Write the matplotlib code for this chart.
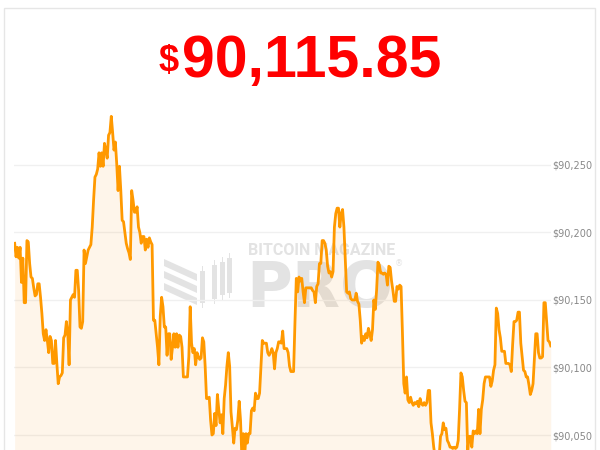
import matplotlib.pyplot as plt
from matplotlib.patches import Rectangle, Polygon

TITLE_PRICE = "90,115.85"
TICKS = [90050, 90100, 90150, 90200, 90250]

# BTC price, left to right (USD)
prices = [
    90192, 90182, 90189, 90181, 90189, 90163, 90181, 90148, 90148, 90194,
    90193, 90177, 90167, 90166, 90159, 90153, 90154, 90162, 90162,
    90152, 90140, 90125, 90120, 90128, 90120, 90111, 90123, 90120, 90103,
    90103, 90120, 90103, 90088, 90093, 90094, 90096, 90122, 90124,
    90134, 90126, 90102, 90150, 90152, 90154, 90152, 90172, 90172,
    90157, 90130, 90129, 90134, 90187, 90177, 90182, 90187, 90189,
    # ---
    90191, 90204, 90224, 90241, 90243, 90247, 90259, 90249, 90259, 90249,
    90266, 90261, 90255, 90272, 90274, 90286, 90274, 90261, 90267, 90251,
    90231, 90249, 90231, 90209, 90208, 90200, 90192, 90188, 90185, 90180,
    90231, 90224, 90215, 90215, 90219, 90204, 90200, 90192, 90197, 90197,
    90187, 90195, 90189, 90196, 90193, 90191, 90135, 90135, 90125, 90115,
    90102, 90138, 90152, 90145, 90130, 90130, 90109, 90125,
    # ---
    90125, 90106, 90115, 90125, 90115, 90125, 90115, 90124, 90123,
    90115, 90093, 90093, 90093, 90093, 90108, 90145, 90118, 90111, 90114,
    90102, 90111, 90108, 90106, 90107, 90122, 90119, 90101, 90077, 90077,
    90078, 90061, 90050, 90051, 90066, 90057, 90080, 90069, 90059, 90065,
    90051, 90077, 90087, 90101, 90111, 90101, 90067, 90056, 90044, 90055,
    90054, 90061, 90075, 90061, 90033, 90051, 90033, 90051,
    # ---
    90044, 90051, 90051, 90068, 90070, 90068, 90081, 90077, 90077, 90081,
    90101, 90120, 90118, 90118, 90118, 90111, 90109, 90111, 90114, 90111,
    90099, 90111, 90114, 90119, 90119, 90118, 90127, 90114, 90114, 90114,
    90111, 90101, 90097, 90097, 90097, 90133, 90166, 90156, 90167, 90164,
    90166, 90156, 90148, 90159, 90159, 90159, 90159, 90159, 90157, 90156,
    90148, 90160, 90162, 90177, 90177, 90194, 90194, 90192, 90187, 90175,
    # ---
    90170, 90171, 90167, 90171, 90204, 90214, 90218, 90218, 90204, 90214,
    90217, 90204, 90180, 90156, 90155, 90156, 90151, 90150, 90150, 90150,
    90155, 90149, 90147, 90135, 90118, 90123, 90120, 90125, 90122, 90129,
    90125, 90120, 90128, 90150, 90143, 90157, 90178, 90176, 90170, 90170,
    90169, 90170, 90169, 90161, 90175, 90174, 90164, 90157, 90149, 90149,
    90160, 90158, 90161, 90160, 90126, 90088, 90081, 90093, 90076, 90074,
    # ---
    90078, 90074, 90072, 90074, 90073, 90075, 90071, 90077, 90073, 90072,
    90074, 90072, 90074, 90083, 90083, 90059, 90051, 90041, 90034, 90033,
    90033, 90034, 90049, 90051, 90059, 90054, 90055, 90046, 90044, 90041,
    90041, 90040, 90041, 90040, 90041, 90046, 90069, 90096, 90093, 90083,
    90075, 90074, 90038, 90049, 90049, 90041, 90053, 90051, 90053, 90051,
    90069, 90051, 90069, 90076, 90088, 90093, 90093, 90093, 90093,
    # ---
    90086, 90090, 90098, 90102, 90144, 90140, 90128, 90122, 90112, 90112,
    90112, 90103, 90103, 90103, 90102, 90097, 90117, 90134, 90134, 90135,
    90141, 90141, 90118, 90108, 90098, 90097, 90093, 90093, 90087, 90080,
    90083, 90088, 90106, 90125, 90125, 90111, 90107, 90107, 90108, 90148,
    90148, 90134, 90120, 90119, 90116,
]

W, H = 600, 450
fig = plt.figure(figsize=(6, 4.5), dpi=100)


def fx(px):
    return px / W


def fy(py):
    return 1 - py / H


# card outline
fig.add_artist(Rectangle((fx(4), fy(470)), (595 - 4) / W, (470 - 8) / H,
                         transform=fig.transFigure, fill=False,
                         edgecolor="#e6e6e6", lw=1))

# big price
fig.text(fx(179), fy(71), "$", color="#ff0000", fontsize=26,
         family="Liberation Sans", weight="bold", ha="right", va="baseline")
fig.text(fx(182), fy(77), TITLE_PRICE, color="#ff0000", fontsize=42.5,
         family="Liberation Sans", weight="bold", ha="left", va="baseline")

ax = fig.add_axes([fx(14), 0, (551 - 14) / W, (450 - 100) / H])
ax.set_facecolor("none")

# watermark
wm = "#e3e3e3"
for t in [259, 271, 283]:
    pts = [(fx(164), fy(t)), (fx(197), fy(t + 15)),
           (fx(197), fy(t + 22)), (fx(164), fy(t + 7))]
    ax.add_patch(Polygon(pts, closed=True, transform=fig.transFigure,
                         color=wm, lw=0, zorder=1, clip_on=False))
for cx, top, bot in [(202, 271, 303), (214, 265, 299), (222, 262, 295), (229, 258, 293)]:
    ax.add_patch(Rectangle((fx(cx - 2.5), fy(bot)), 5 / W, (bot - top) / H,
                           transform=fig.transFigure, color=wm, lw=0,
                           zorder=1, clip_on=False))
    ax.add_patch(Rectangle((fx(cx - 0.5), fy(bot + 5)), 1 / W, (bot - top + 10) / H,
                           transform=fig.transFigure, color=wm, lw=0,
                           zorder=1, clip_on=False))
ax.text(fx(248), fy(255), "BITCOIN MAGAZINE", transform=fig.transFigure,
        color=wm, fontsize=11.5, family="Roboto", weight="bold",
        ha="left", va="baseline", zorder=1)
ax.text(fx(246), fy(307), "PRO", transform=fig.transFigure,
        color=wm, fontsize=45, family="DejaVu Sans", weight="bold",
        ha="left", va="baseline", zorder=1)
ax.text(fx(395), fy(266), "\u00ae", transform=fig.transFigure,
        color=wm, fontsize=6, ha="left", va="baseline", zorder=1)

x = list(range(len(prices)))
ax.fill_between(x, prices, 90000, color="#f7931a", alpha=0.09, lw=0, zorder=2)
ax.plot(x, prices, color="#ff9900", lw=2.0, zorder=3)

ax.set_xlim(-0.5, len(prices) - 0.8)
ax.set_ylim(90038.9, 90298.1)
ax.set_yticks(TICKS)
ax.set_yticklabels([f"${t:,}" for t in TICKS])
ax.yaxis.tick_right()
ax.tick_params(axis="y", length=0, pad=1, labelsize=7, labelcolor="#888888")
ax.set_xticks([])
ax.grid(axis="y", color="#f0f0f0", lw=1)
for s in ax.spines.values():
    s.set_visible(False)

fig.savefig("out.png", dpi=100, facecolor="white")
